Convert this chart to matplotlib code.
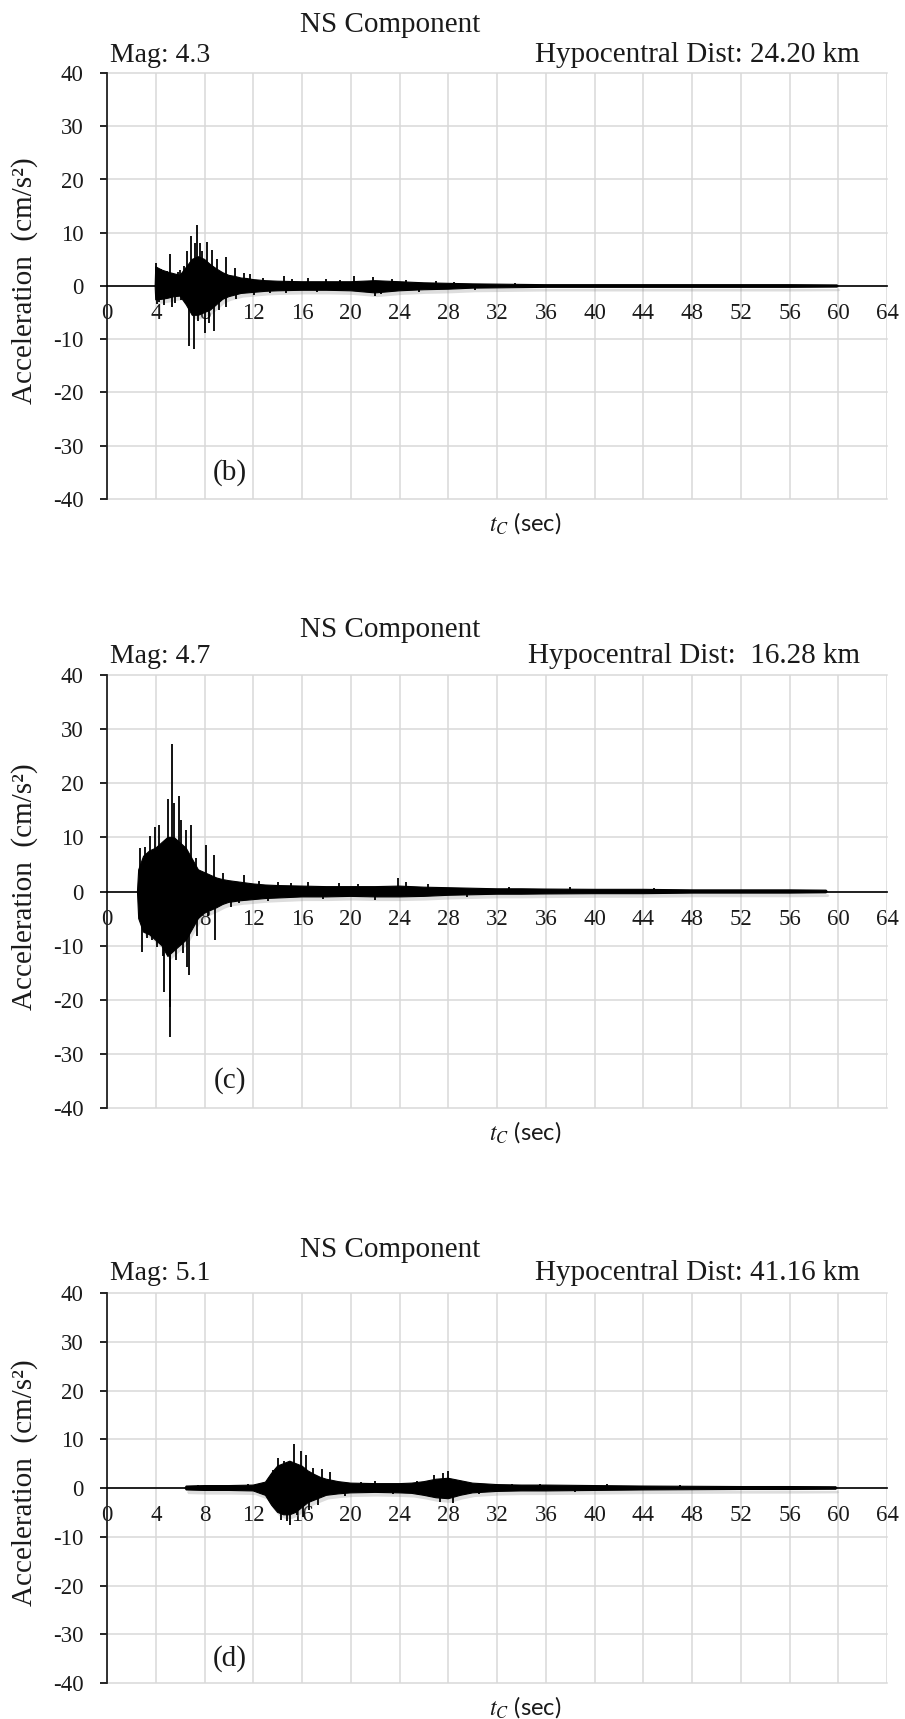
import matplotlib
matplotlib.use("Agg")
import matplotlib.pyplot as plt
import matplotlib.patheffects as pe

plt.rcParams['font.family'] = ['Liberation Serif', 'DejaVu Serif']
plt.rcParams['mathtext.fontset'] = 'stix'
plt.rcParams['axes.unicode_minus'] = False

# ========== 数据 ==========
# 每个面板: 包络线 (时间, 上包络, 下包络) + 单独的尖峰 (时间, 幅值)
# (b) Mag 4.3
tb_env = [3.95, 4.0, 4.5, 5.0, 5.5, 6.0, 6.5, 7.0, 7.5, 8.0,
          8.5, 9.0, 9.5, 10.0, 10.5, 11.0, 11.5, 12.0,
          13.0, 14.0, 16.0, 18.0, 20.0, 21.0, 22.0, 23.0, 24.0,
          26.0, 28.0, 30.0, 32.0, 34.0, 36.0,
          40.0, 44.0, 48.0, 52.0, 56.0, 59.9, 60.0]
ub_env = [0, 3.6, 3.0, 2.6, 2.3, 2.0, 3.5, 5.0, 5.5, 5.0,
          4.0, 3.2, 2.5, 2.0, 1.8, 1.5, 1.4, 1.2,
          1.0, 0.9, 0.8, 0.8, 0.8, 0.9, 1.0, 0.9, 0.8,
          0.6, 0.5, 0.4, 0.35, 0.3, 0.25,
          0.25, 0.25, 0.25, 0.25, 0.25, 0.2, 0]
lb_env = [0, -2.6, -2.5, -2.3, -2.0, -1.9, -3.5, -5.5, -5.5, -5.0,
          -4.5, -3.5, -2.5, -2.0, -1.7, -1.4, -1.3, -1.2,
          -1.0, -0.9, -0.8, -0.8, -0.9, -1.1, -1.3, -1.1, -0.9,
          -0.7, -0.6, -0.4, -0.35, -0.3, -0.25,
          -0.25, -0.25, -0.25, -0.25, -0.25, -0.2, 0]
tb_spk = [4.05, 4.1, 4.4, 4.7, 5.2, 5.3, 5.6, 6.0, 6.3, 6.55,
          6.7, 6.9, 7.1, 7.25, 7.35, 7.5, 7.6, 7.8, 8.0, 8.2,
          8.35, 8.6, 8.8, 9.0, 9.2, 9.75, 9.8, 10.5, 10.6, 11.2,
          11.7, 12.1, 14.5, 14.7, 16.5, 18.0, 20.3, 21.8, 22.0, 22.5,
          24.5, 27.0, 4.25, 4.9, 5.8, 6.1, 12.8, 13.4, 15.2, 17.2,
          19.1, 23.4, 25.6, 28.5, 30.2, 33.5]
vb_spk = [4.4, -3.3, 3.2, -3.5, 6.1, -4.0, -3.2, 3.0, 3.8, 6.5,
          -11.3, 9.4, -11.9, 8.0, 11.4, -6.5, 8.0, 6.5, -8.8, 8.2,
          -7.0, 6.8, -8.4, 5.0, -4.5, 5.4, -4.0, 3.4, -2.5, 2.5,
          2.2, -1.6, 1.8, -1.4, 1.5, 1.3, 1.8, 1.7, -1.8, -1.5,
          1.2, 0.9, -3.0, 2.8, 2.6, -2.6, 1.5, -1.3, 1.3, -1.2,
          1.2, 1.4, -1.1, 0.8, -0.7, 0.6]

# (c) Mag 4.7
tc_env = [2.5, 2.6, 3.0, 3.5, 4.0, 4.5, 5.0, 5.5, 6.0, 6.5,
          7.0, 7.5, 8.0, 8.5, 9.0, 9.5, 10.0, 11.0, 12.0, 13.0,
          14.0, 16.0, 18.0, 20.0, 22.0, 24.0, 26.0, 28.0, 30.0, 32.0,
          34.0, 36.0, 40.0, 44.0, 48.0, 52.0, 56.0, 59.0, 59.1]
uc_env = [0, 4.0, 6.5, 7.5, 8.0, 9.0, 10.0, 10.0, 9.0, 8.0,
          6.0, 4.0, 3.5, 3.0, 2.5, 2.2, 2.0, 1.7, 1.4, 1.2,
          1.1, 1.0, 0.9, 0.9, 0.9, 1.0, 0.8, 0.7, 0.6, 0.5,
          0.5, 0.45, 0.4, 0.4, 0.3, 0.3, 0.3, 0.25, 0]
lc_env = [0, -5.0, -7.5, -8.0, -9.0, -10.0, -12.0, -11.0, -10.0, -9.0,
          -7.0, -5.0, -4.0, -3.5, -3.0, -2.4, -2.0, -1.7, -1.5, -1.3,
          -1.2, -1.0, -1.0, -0.9, -1.0, -1.0, -0.9, -0.7, -0.6, -0.5,
          -0.5, -0.45, -0.4, -0.4, -0.3, -0.3, -0.3, -0.25, 0]
tc_spk = [2.7, 2.9, 3.1, 3.3, 3.5, 3.7, 3.9, 4.1, 4.3, 4.6,
          4.7, 5.0, 5.14, 5.3, 5.47, 5.2, 5.7, 5.9, 6.1, 6.25,
          6.45, 6.6, 6.73, 6.92, 7.3, 7.4, 8.15, 8.3, 8.8, 8.9,
          9.5, 10.2, 11.2, 12.5, 14.0, 16.5, 19.0, 22.0, 23.9, 24.5,
          10.8, 13.2, 15.1, 17.7, 20.6, 26.3, 29.5, 33.0, 38.0, 44.9]
vc_spk = [8.0, -11.1, 8.3, -8.5, 10.2, -9.0, 12.0, -10.2, 12.3, -12.0,
          -18.5, 17.0, -26.9, 27.2, 16.4, -21.3, -12.7, 17.6, 13.3, -11.4,
          11.4, -13.9, -15.4, 12.3, 6.2, -8.3, 8.6, -4.5, 6.8, -9.0,
          3.4, -2.8, 3.1, 2.0, 1.8, 1.7, 1.6, -1.5, 2.5, 1.8,
          -2.2, -1.7, 1.5, -1.4, 1.3, 1.3, -1.0, 0.9, 0.8, 0.7]

# (d) Mag 5.1
td_env = [6.4, 6.5, 8.0, 10.0, 12.0, 13.0, 13.5, 14.0, 14.5, 15.0,
          15.5, 16.0, 16.5, 17.0, 17.5, 18.0, 19.0, 20.0, 22.0, 24.0,
          25.0, 26.0, 27.0, 28.0, 29.0, 30.0, 32.0, 34.0, 36.0, 40.0,
          44.0, 48.0, 52.0, 56.0, 59.8, 59.9]
ud_env = [0, 0.4, 0.5, 0.5, 0.6, 1.2, 3.0, 4.5, 5.0, 5.5,
          5.0, 4.5, 3.5, 2.8, 2.2, 1.8, 1.3, 1.0, 0.9, 0.9,
          1.0, 1.3, 1.8, 2.0, 1.5, 1.0, 0.7, 0.6, 0.6, 0.5,
          0.4, 0.35, 0.3, 0.3, 0.25, 0]
ld_env = [0, -0.4, -0.5, -0.5, -0.6, -1.5, -3.5, -5.0, -5.5, -5.5,
          -5.0, -4.0, -3.0, -2.5, -2.0, -1.5, -1.2, -1.0, -0.9, -1.0,
          -1.1, -1.5, -2.0, -2.2, -1.5, -1.0, -0.7, -0.6, -0.6, -0.5,
          -0.4, -0.35, -0.3, -0.3, -0.25, 0]
td_spk = [13.6, 13.9, 14.0, 14.3, 14.5, 14.8, 15.0, 15.36, 15.6, 15.9,
          16.1, 16.3, 16.6, 16.9, 17.3, 17.6, 18.3, 19.5, 22.0, 26.8,
          27.3, 27.6, 28.0, 28.4, 35.5, 41.0, 7.5, 9.8, 11.6, 20.8,
          23.5, 25.4, 30.5, 33.2, 38.4, 47.0]
vd_spk = [3.7, -4.0, 6.2, -6.5, 5.5, -6.8, -7.5, 9.0, -5.5, 7.5,
          -6.0, 6.8, -4.5, 4.2, -3.5, 4.0, 3.3, -1.6, 1.4, 2.6,
          -2.8, 3.0, 3.4, -3.0, 0.9, 0.8, 0.7, -0.7, 0.8, 1.3,
          -1.2, 1.4, -1.2, 0.9, -0.8, 0.6]

mags = ["Mag: 4.3", "Mag: 4.7", "Mag: 5.1"]
dists = ["Hypocentral Dist: 24.20 km", "Hypocentral Dist:  16.28 km",
         "Hypocentral Dist: 41.16 km"]
tags = ["(b)", "(c)", "(d)"]
x_ticks = list(range(0, 65, 4))
y_ticks = list(range(-40, 41, 10))

series = [(tb_env, ub_env, lb_env, tb_spk, vb_spk),
          (tc_env, uc_env, lc_env, tc_spk, vc_spk),
          (td_env, ud_env, ld_env, td_spk, vd_spk)]

# ========== 版面 (像素) ==========
W, H = 905, 1719
left, right = 107, 887
# (axes top, axes bottom, title y, mag y)
boxes = [(73, 499, 25, 55), (675, 1108, 630, 656), (1293, 1683, 1250, 1273)]
txt = '#1a1a1a'

fig = plt.figure(figsize=(W / 100, H / 100), dpi=100)
shadow_poly = [pe.SimplePatchShadow(offset=(1.5, -3), shadow_rgbFace='#909090', alpha=0.3), pe.Normal()]

for i, (top, bot, ty, my) in enumerate(boxes):
    ax = fig.add_axes([left / W, 1 - bot / H, (right - left) / W, (bot - top) / H])
    t_env, u_env, l_env, t_spk, v_spk = series[i]

    ax.fill_between(t_env, l_env, u_env, color='black', lw=0.8, zorder=3,
                    path_effects=shadow_poly)
    ax.vlines(t_spk, 0, v_spk, color='black', lw=1.3, zorder=3)

    ax.set_xlim(0, 64)
    ax.set_ylim(-40, 40)
    ax.set_xticks(x_ticks)
    ax.set_yticks(y_ticks)
    ax.grid(True, color='#d9d9d9', lw=1.1)
    ax.set_axisbelow(True)
    for gl in ax.get_xgridlines() + ax.get_ygridlines():
        gl.set_clip_on(False)

    ax.spines['top'].set_visible(False)
    ax.spines['right'].set_visible(False)
    ax.spines['bottom'].set_position(('data', 0))
    ax.spines['bottom'].set_linewidth(1.2)
    ax.spines['left'].set_linewidth(1.3)
    ax.spines['left'].set_color('#222222')

    ax.tick_params(axis='x', length=0, pad=12.5, labelsize=16.5, labelcolor=txt)
    ax.tick_params(axis='y', direction='out', length=5, width=1.2, pad=12,
                   labelsize=16.5, labelcolor=txt)

    ax.text(10.1, -35, tags[i], fontsize=21, color=txt, ha='center', va='center')

    zero_y = bot - (bot - top) / 2
    fig.text(25 / W, 1 - (zero_y - 5) / H, 'Acceleration  (cm/s²)', rotation=90,
             fontsize=21, color=txt, ha='center', va='center')
    fig.text(390 / W, 1 - ty / H, 'NS Component', fontsize=21, color=txt,
             ha='center', va='center')
    fig.text(110 / W, 1 - my / H, mags[i], fontsize=20, color=txt,
             ha='left', va='center')
    fig.text(860 / W, 1 - my / H, dists[i], fontsize=21, color=txt,
             ha='right', va='center')
    fig.text(525 / W, 1 - (bot + 24) / H, r'$t_C$ (sec)', family=['Lato', 'DejaVu Sans'],
             fontsize=17, color=txt, ha='center', va='center')

fig.savefig('out.png', dpi=100)
